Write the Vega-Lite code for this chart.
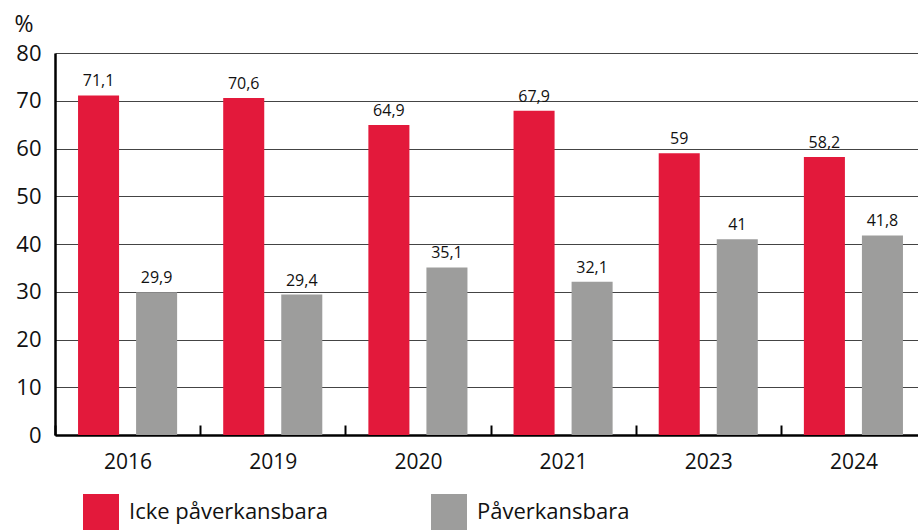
{
  "$schema": "https://vega.github.io/schema/vega-lite/v6.json",
  "autosize": {"type": "none"},
  "padding": {"left": 55, "top": 53, "right": 0, "bottom": 96},
  "width": 863,
  "height": 382,
  "config": {
    "locale": {"number": {"decimal": ",", "thousands": " ", "grouping": [3], "currency": ["", " kr"]}},
    "font": "Open Sans",
    "view": {"stroke": null}
  },
  "data": {
    "values": [
      {"year": "2016", "typ": "Icke påverkansbara", "value": 71.1},
      {"year": "2016", "typ": "Påverkansbara", "value": 29.9},
      {"year": "2019", "typ": "Icke påverkansbara", "value": 70.6},
      {"year": "2019", "typ": "Påverkansbara", "value": 29.4},
      {"year": "2020", "typ": "Icke påverkansbara", "value": 64.9},
      {"year": "2020", "typ": "Påverkansbara", "value": 35.1},
      {"year": "2021", "typ": "Icke påverkansbara", "value": 67.9},
      {"year": "2021", "typ": "Påverkansbara", "value": 32.1},
      {"year": "2023", "typ": "Icke påverkansbara", "value": 59},
      {"year": "2023", "typ": "Påverkansbara", "value": 41},
      {"year": "2024", "typ": "Icke påverkansbara", "value": 58.2},
      {"year": "2024", "typ": "Påverkansbara", "value": 41.8}
    ]
  },
  "encoding": {
    "x": {
      "field": "year", "type": "nominal",
      "scale": {"range": [0, 871], "paddingInner": 0, "paddingOuter": 0},
      "axis": {
        "title": null, "labelAngle": 0, "labelFontSize": 21, "labelColor": "#111",
        "domainColor": "#000", "domainWidth": 2.5, "tickBand": "extent",
        "tickColor": "#000", "tickWidth": 2, "tickSize": -10, "labelPadding": 26
      }
    },
    "xOffset": {
      "field": "typ", "type": "nominal",
      "scale": {"paddingInner": 0.293, "paddingOuter": 0.397}
    },
    "y": {
      "field": "value", "type": "quantitative",
      "scale": {"domain": [0, 80], "nice": false},
      "axis": {
        "values": [0, 10, 20, 30, 40, 50, 60, 70, 80],
        "title": "%", "titleAngle": 0, "titleX": -41, "titleY": -29,
        "titleAlign": "left", "titleBaseline": "middle", "titleFontSize": 23,
        "titleFontWeight": "normal", "titleColor": "#111",
        "labelFontSize": 22, "labelColor": "#111", "labelPadding": 14,
        "ticks": false, "domainColor": "#000", "domainWidth": 2.5,
        "grid": true, "gridColor": "#444", "gridWidth": 1, "gridOpacity": 1
      }
    }
  },
  "layer": [
    {
      "mark": {"type": "bar"},
      "encoding": {
        "color": {
          "field": "typ", "type": "nominal",
          "scale": {"domain": ["Icke påverkansbara", "Påverkansbara"], "range": ["#E3193B", "#9D9D9C"]},
          "legend": {
            "title": null, "orient": "none", "legendX": 28, "legendY": 441,
            "direction": "horizontal", "columns": 2,
            "symbolType": "square", "symbolSize": 1296, "symbolStrokeWidth": 0,
            "symbolOpacity": 1, "labelFontSize": 22, "labelColor": "#111",
            "labelOffset": 10, "columnPadding": 103, "labelLimit": 400
          }
        }
      }
    },
    {
      "mark": {"type": "text", "baseline": "bottom", "dy": -6, "fontSize": 16, "fontWeight": 500, "color": "#111"},
      "encoding": {
        "text": {"field": "value", "type": "quantitative", "format": "~r"}
      }
    }
  ]
}
